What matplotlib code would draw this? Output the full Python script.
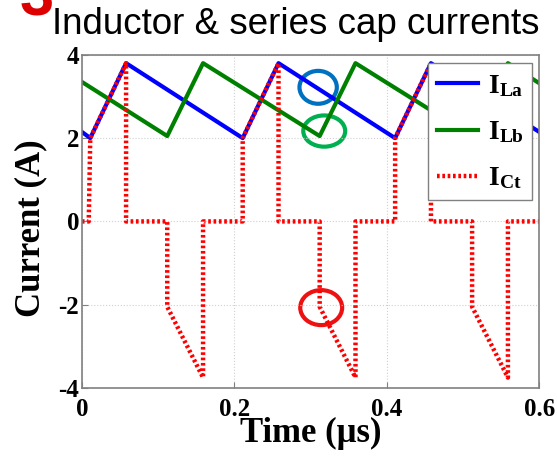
import numpy as np
import matplotlib
matplotlib.use('Agg')
import matplotlib.pyplot as plt
from matplotlib.patches import Ellipse

plt.rcParams['mathtext.fontset'] = 'custom'
plt.rcParams['mathtext.bf'] = 'Liberation Serif:bold'
plt.rcParams['mathtext.rm'] = 'Liberation Serif'

# breakpoints of the waveforms (time in us, current in A)
t_la = [0, 0.011, 0.058, 0.211, 0.258, 0.411, 0.458, 0.6]
i_la = [2.15, 2.0, 3.8, 2.0, 3.8, 2.0, 3.8, 2.15]

t_lb = [0, 0.112, 0.159, 0.312, 0.359, 0.512, 0.559, 0.6]
i_lb = [3.35, 2.05, 3.8, 2.05, 3.8, 2.05, 3.8, 3.32]

t_ct = [0, 0.009, 0.011, 0.058, 0.058, 0.112, 0.112, 0.159, 0.159,
        0.211, 0.211, 0.258, 0.258, 0.312, 0.312, 0.359, 0.359,
        0.411, 0.411, 0.458, 0.458, 0.512, 0.512, 0.559, 0.559, 0.6]
i_ct = [0, 0, 2.0, 3.8, 0, 0, -2.05, -3.75, 0,
        0, 2.0, 3.8, 0, 0, -2.05, -3.75, 0,
        0, 2.0, 3.8, 0, 0, -2.05, -3.75, 0, 0]

x_ticks = [0, 0.2, 0.4, 0.6]
x_labels = ['0', '0.2', '0.4', '0.6']
y_ticks = [-4, -2, 0, 2, 4]
y_labels = ['-4', '-2', '0', '2', '4']

fig = plt.figure(figsize=(5.57, 4.57), dpi=100)
ax = fig.add_axes([0.147, 0.151, 0.821, 0.729])

ax.plot(t_la, i_la, color='#0000ff', linewidth=3, label=r'$\mathbf{I_{La}}$')
ax.plot(t_lb, i_lb, color='#008000', linewidth=3, label=r'$\mathbf{I_{Lb}}$')
ax.plot(t_ct, i_ct, color='#ff0000', linewidth=3.2, linestyle=(0, (0.6, 0.6)),
        label=r'$\mathbf{I_{Ct}}$')

ax.set_xlim(0, 0.6)
ax.set_ylim(-4, 4)
ax.set_xticks(x_ticks)
ax.set_xticklabels(x_labels)
ax.set_yticks(y_ticks)
ax.set_yticklabels(y_labels)
for lab in ax.get_xticklabels() + ax.get_yticklabels():
    lab.set_fontfamily('Liberation Serif')
    lab.set_fontweight('bold')
    lab.set_fontsize(18)
ax.tick_params(direction='in', length=4, color='#808080', pad=2)
ax.tick_params(axis='x', pad=7)
ax.grid(True, color='#d0d0d0', linestyle=':', linewidth=0.8)
for s in ax.spines.values():
    s.set_color('#808080')
    s.set_linewidth(1.2)

ax.set_xlabel('Time (\u03bcs)', fontfamily='Liberation Serif', fontweight='bold',
              fontsize=25, labelpad=-3)
ax.set_ylabel('Current (A)', fontfamily='Liberation Serif', fontweight='bold',
              fontsize=25)
ax.yaxis.set_label_coords(-0.075, 0.48)

leg = ax.legend(loc='upper right', bbox_to_anchor=(0.985, 0.976), fontsize=20,
                handlelength=1.5, frameon=True, fancybox=False, framealpha=1,
                borderpad=0.3, labelspacing=0.65, handletextpad=0.35, borderaxespad=0)
leg.get_frame().set_edgecolor('#808080')
leg.get_frame().set_linewidth(1.0)

# highlight circles
ax.add_patch(Ellipse((0.310, 3.22), 0.049, 0.79, fill=False, edgecolor='#0070c0', linewidth=3))
ax.add_patch(Ellipse((0.318, 2.17), 0.055, 0.75, fill=False, edgecolor='#00b050', linewidth=3))
ax.add_patch(Ellipse((0.314, -2.07), 0.055, 0.84, fill=False, edgecolor='#ee1111', linewidth=3))

fig.text(0.093, 0.925, 'Inductor & series cap currents', fontfamily='Liberation Sans',
         fontsize=26.5, va='baseline', ha='left')
fig.text(0.035, 0.965, '3', fontfamily='Liberation Sans', fontweight='bold',
         fontsize=44, color='#dd0000', va='baseline', ha='left')

fig.savefig('out.png', dpi=100)
